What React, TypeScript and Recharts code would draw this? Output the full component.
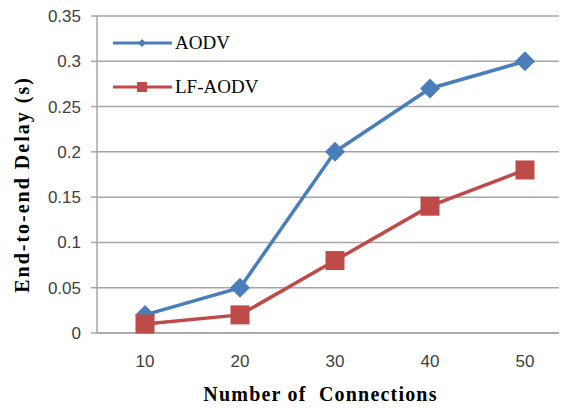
import React from "react";
import { LineChart, Line, XAxis, YAxis, CartesianGrid } from "recharts";

const connections = ["10", "20", "30", "40", "50"];
const aodv = [0.02, 0.05, 0.2, 0.27, 0.3];
const lfAodv = [0.01, 0.02, 0.08, 0.14, 0.18];
const yTicks = [0, 0.05, 0.1, 0.15, 0.2, 0.25, 0.3, 0.35];
const seriesNames = ["AODV", "LF-AODV"];
const xTitle = "Number of\u00A0\u00A0Connections";
const yTitle = "End-to-end Delay (s)";

const data = connections.map((c, i) => ({ c, aodv: aodv[i], lf: lfAodv[i] }));

const BLUE = "#4A7EBB";
const RED = "#BE4B48";

const Diamond = (props: any) => {
  const { cx, cy, fill, size = 8 } = props;
  if (cx == null || cy == null) return null;
  return (
    <path
      d={`M${cx},${cy - size} L${cx + size},${cy} L${cx},${cy + size} L${cx - size},${cy} Z`}
      fill={fill}
    />
  );
};

const Square = (props: any) => {
  const { cx, cy, fill, size = 7 } = props;
  if (cx == null || cy == null) return null;
  return <rect x={cx - size} y={cy - size} width={size * 2} height={size * 2} fill={fill} />;
};

const fmt = (v: number) => (v === 0 ? "0" : String(v));

const titleStyle = { fontFamily: "Liberation Serif, serif", fontWeight: "bold", fontSize: 20, fill: "#000" } as const;

const XTitle = (props: any) => {
  const vb = props.viewBox || {};
  const cx = vb.x + vb.width / 2 - 14;
  return (
    <text x={cx} y={401} textAnchor="middle" letterSpacing={1.2} {...titleStyle}>
      {xTitle}
    </text>
  );
};

const YTitle = (props: any) => {
  const vb = props.viewBox || {};
  const cy = vb.y + vb.height / 2 + 10;
  const cx = 29;
  return (
    <text x={cx} y={cy} textAnchor="middle" letterSpacing={2} transform={`rotate(-90 ${cx} ${cy})`} {...titleStyle}>
      {yTitle}
    </text>
  );
};

const LegendOverlay = () => (
  <svg width={200} height={100} style={{ position: "absolute", left: 97, top: 16, overflow: "visible" }}>
    <line x1={16} y1={27} x2={75} y2={27} stroke={BLUE} strokeWidth={3} />
    <Diamond cx={45} cy={27} fill={BLUE} size={4} />
    <text x={78} y={33} fontFamily="Liberation Serif, serif" fontSize={19} fill="#000">{seriesNames[0]}</text>
    <line x1={16} y1={71} x2={75} y2={71} stroke={RED} strokeWidth={3} />
    <Square cx={45} cy={71} fill={RED} size={5} />
    <text x={78} y={77} fontFamily="Liberation Serif, serif" fontSize={19} fill="#000">{seriesNames[1]}</text>
  </svg>
);

export default function App() {
  return (
    <div style={{ margin: "-8px 0 0 -8px", width: 567, height: 408, overflow: "hidden", background: "#fff", position: "relative" }}>
      <LineChart
        width={572}
        height={408}
        data={data}
        margin={{ top: 16, right: 0, bottom: 0, left: 0 }}
      >
        <CartesianGrid vertical={false} stroke="#A6A6A6" strokeWidth={1.5} />
        <XAxis
          dataKey="c"
          height={75}
          padding={{ left: 48, right: 47 }}
          tickLine={false}
          axisLine={{ stroke: "#A6A6A6", strokeWidth: 1.5 }}
          tick={{ fill: "#404040", fontSize: 17, fontFamily: "Liberation Sans, sans-serif" }}
          tickMargin={16}
          label={<XTitle />}
        />
        <YAxis
          width={97}
          domain={[0, 0.35]}
          ticks={yTicks}
          tickFormatter={fmt}
          interval={0}
          tickSize={6}
          tickLine={{ stroke: "#A6A6A6", strokeWidth: 1.5 }}
          axisLine={{ stroke: "#A6A6A6", strokeWidth: 1.5 }}
          tick={{ fill: "#404040", fontSize: 17, fontFamily: "Liberation Sans, sans-serif" }}
          tickMargin={10}
          label={<YTitle />}
        />
        <Line
          type="linear"
          dataKey="aodv"
          name={seriesNames[0]}
          stroke={BLUE}
          strokeWidth={3.5}
          dot={<Diamond fill={BLUE} size={10} />}
          activeDot={false}
          isAnimationActive={false}
        />
        <Line
          type="linear"
          dataKey="lf"
          name={seriesNames[1]}
          stroke={RED}
          strokeWidth={3.5}
          dot={<Square fill={RED} size={9.5} />}
          activeDot={false}
          isAnimationActive={false}
        />
      </LineChart>
      <LegendOverlay />
    </div>
  );
}
